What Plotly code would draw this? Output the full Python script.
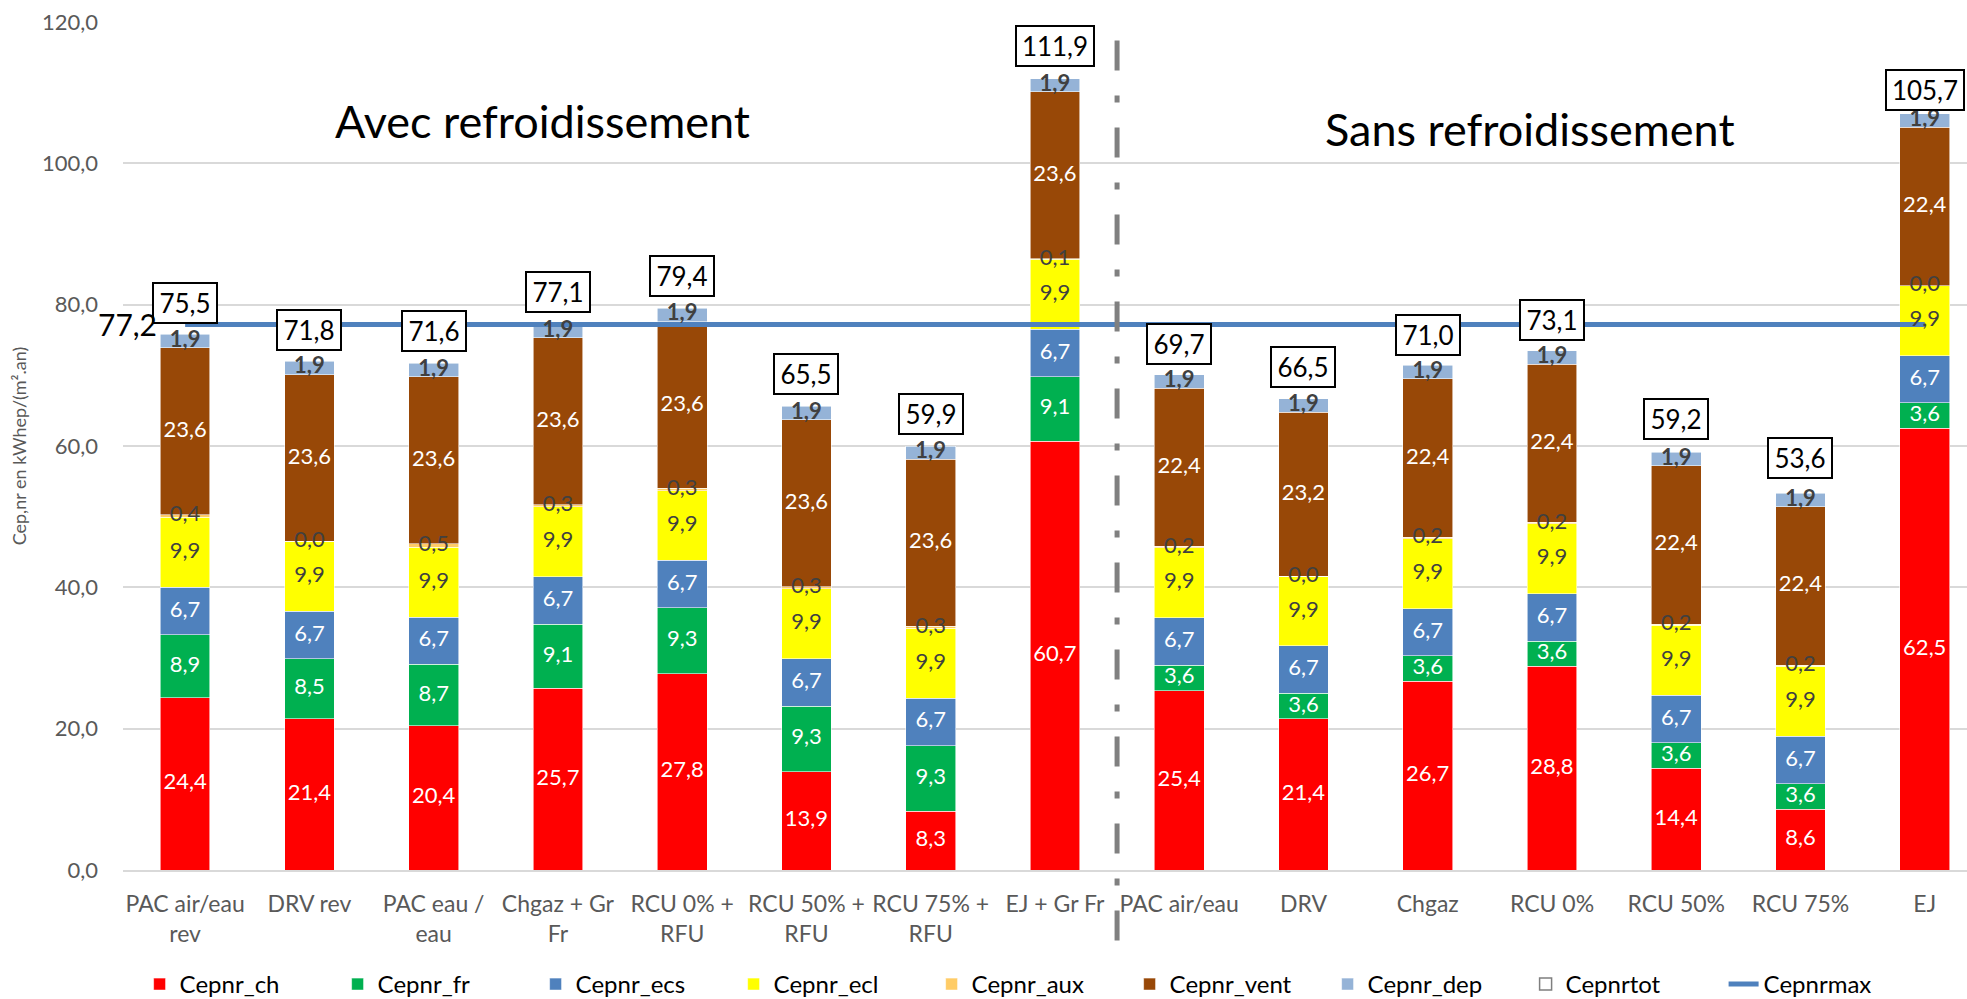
import numpy as np
import plotly.graph_objects as go

# Scenarios, with cooling (first group) and without cooling (second group)
categories_avec = ["PAC air/eau<br>rev", "DRV rev", "PAC eau /<br>eau", "Chgaz + Gr<br>Fr",
                   "RCU 0% +<br>RFU", "RCU 50% +<br>RFU", "RCU 75% +<br>RFU", "EJ + Gr Fr"]
categories_sans = ["PAC air/eau", "DRV", "Chgaz", "RCU 0%", "RCU 50%", "RCU 75%", "EJ"]
categories = categories_avec + categories_sans

cepnr_ch = [24.4, 21.4, 20.4, 25.7, 27.8, 13.9, 8.3, 60.7, 25.4, 21.4, 26.7, 28.8, 14.4, 8.6, 62.5]
cepnr_fr = [8.9, 8.5, 8.7, 9.1, 9.3, 9.3, 9.3, 9.1, 3.6, 3.6, 3.6, 3.6, 3.6, 3.6, 3.6]
cepnr_ecs = [6.7, 6.7, 6.7, 6.7, 6.7, 6.7, 6.7, 6.7, 6.7, 6.7, 6.7, 6.7, 6.7, 6.7, 6.7]
cepnr_ecl = [9.9, 9.9, 9.9, 9.9, 9.9, 9.9, 9.9, 9.9, 9.9, 9.9, 9.9, 9.9, 9.9, 9.9, 9.9]
cepnr_aux = [0.4, 0.0, 0.5, 0.3, 0.3, 0.3, 0.3, 0.1, 0.2, 0.0, 0.2, 0.2, 0.2, 0.2, 0.0]
cepnr_vent = [23.6, 23.6, 23.6, 23.6, 23.6, 23.6, 23.6, 23.6, 22.4, 23.2, 22.4, 22.4, 22.4, 22.4, 22.4]
cepnr_dep = [1.9, 1.9, 1.9, 1.9, 1.9, 1.9, 1.9, 1.9, 1.9, 1.9, 1.9, 1.9, 1.9, 1.9, 1.9]
cepnr_tot = [75.5, 71.8, 71.6, 77.1, 79.4, 65.5, 59.9, 111.9, 69.7, 66.5, 71.0, 73.1, 59.2, 53.6, 105.7]
cepnr_max = 77.2

FONT = "Lato"
DARK = "#404040"

series = [
    ("Cepnr_ch", cepnr_ch, "#FF0000", "white", False),
    ("Cepnr_fr", cepnr_fr, "#00B050", "white", False),
    ("Cepnr_ecs", cepnr_ecs, "#4F81BD", "white", False),
    ("Cepnr_ecl", cepnr_ecl, "#FFFF00", DARK, False),
    ("Cepnr_aux", cepnr_aux, "#FFCC66", DARK, False),
    ("Cepnr_vent", cepnr_vent, "#984807", "white", False),
    ("Cepnr_dep", cepnr_dep, "#95B3D7", DARK, True),
]


def fr_num(v):
    return f"{v:.1f}".replace(".", ",")


fig = go.Figure()

# stacked components
for name, vals, color, _, _ in series:
    fig.add_trace(go.Bar(
        x=categories, y=vals, name=name, width=0.4,
        marker=dict(color=color, line=dict(color="rgba(255,255,255,0.7)", width=0.8)),
    ))

# legend entry for the totals
fig.add_trace(go.Bar(
    x=[None], y=[None], name="Cepnrtot",
    marker=dict(color="white", line=dict(color="#7F7F7F", width=1.5)),
))

# regulatory maximum
fig.add_trace(go.Scatter(
    x=categories, y=[cepnr_max] * len(categories), name="Cepnrmax", mode="lines",
    line=dict(color="#4F81BD", width=5),
))

# value labels centred on each segment
bottom = np.zeros(len(categories))
for name, vals, color, txtcolor, bold in series:
    arr = np.array(vals)
    mid = bottom + arr / 2
    labels = [fr_num(v) for v in vals]
    if bold:
        labels = [f"<b>{t}</b>" for t in labels]
    fig.add_trace(go.Scatter(
        x=categories, y=mid, mode="text", text=labels, showlegend=False,
        textfont=dict(family=FONT, size=22, color=txtcolor), cliponaxis=False,
        hoverinfo="skip",
    ))
    bottom = bottom + arr

# boxed totals above each bar
for cat, tot in zip(categories, cepnr_tot):
    label = fr_num(tot)
    fig.add_annotation(
        x=cat, y=tot, text=label, showarrow=False, yanchor="bottom", yshift=12,
        font=dict(family=FONT, size=26, color="black"),
        bordercolor="black", borderwidth=2, borderpad=3, bgcolor="white",
        width=56 if len(label) <= 4 else 70, height=32,
    )

# maximum value label at the start of the line
fig.add_annotation(
    x=categories[0], y=cepnr_max, text=fr_num(cepnr_max), showarrow=False,
    xanchor="right", xshift=-26, font=dict(family=FONT, size=30, color="black"),
)

# group titles
fig.add_annotation(x=2.88, y=106.0, text="Avec refroidissement", showarrow=False,
                   font=dict(family=FONT, size=45, color="black"))
fig.add_annotation(x=10.82, y=104.9, text="Sans refroidissement", showarrow=False,
                   font=dict(family=FONT, size=45, color="black"))

# separator between both groups
sep_x = len(categories_avec) - 0.5
fig.add_shape(type="line", xref="x", yref="paper", x0=sep_x, x1=sep_x, y0=-0.083, y1=0.996,
              line=dict(color="#808080", width=5, dash="30px,25px,7px,25px"))

fig.update_layout(
    barmode="stack",
    width=1967, height=999,
    margin=dict(l=123, r=0, t=22, b=129, autoexpand=False),
    paper_bgcolor="white", plot_bgcolor="white",
    separators=", ",
    font=dict(family=FONT, color="#595959"),
    showlegend=True,
    legend=dict(
        orientation="h", x=0.009, xanchor="left", y=-0.135, yanchor="middle",
        font=dict(family=FONT, size=24, color="black"), traceorder="normal",
        entrywidth=153, entrywidthmode="pixels",
    ),
    xaxis=dict(
        range=[-0.5, 14.34], showgrid=False, showline=True, linecolor="#D9D9D9", linewidth=2,
        ticks="", tickfont=dict(family=FONT, size=23, color="#595959"), ticklabelstandoff=12,
    ),
    yaxis=dict(
        range=[0, 120], dtick=20, tickformat=".1f", showgrid=True, gridcolor="#D9D9D9",
        gridwidth=1.5, zeroline=False, showline=False, ticks="",
        tickfont=dict(family=FONT, size=22, color="#595959"), ticklabelstandoff=24,
        title=dict(text="Cep,nr en kWhep/(m².an)", font=dict(family=FONT, size=18, color="#595959"),
                   standoff=10),
    ),
)

fig.write_html("out.html")
